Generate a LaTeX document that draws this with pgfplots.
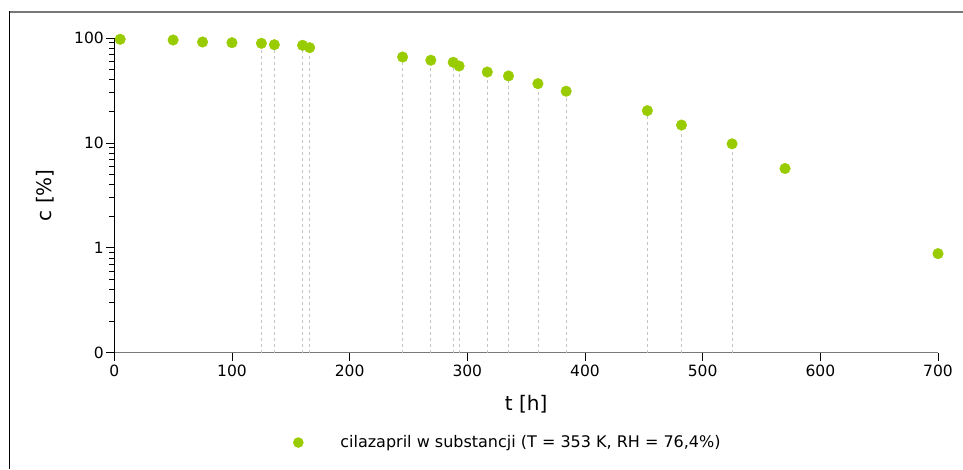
\documentclass[border=0pt]{standalone}
\usepackage{fontspec}
\setmainfont{DejaVu Sans}
\usepackage{pgfplots}
\pgfplotsset{compat=1.18}
\usepackage{pgfplotstable}

\definecolor{cgreen}{RGB}{153,204,0}
\definecolor{dashgray}{RGB}{195,195,195}
\definecolor{axgray}{RGB}{120,120,120}

% t [h], c [%]
\pgfplotstableread{
t   c
5   97.2
50  95.7
75  91.6
100 90.2
125 89.0
136 86.3
160 85.2
166 80.9
245 65.9
269 61.4
288 58.7
293 54.1
317 47.4
335 43.5
360 36.7
384 31.1
453 20.3
482 14.8
525 9.8
570 5.7
700 0.88
}\cilazapril

% points with a drop line to the time axis
\pgfplotstableread{
t   c
125 89.0
136 86.3
160 85.2
166 80.9
245 65.9
269 61.4
288 58.7
293 54.1
317 47.4
335 43.5
360 36.7
384 31.1
453 20.3
482 14.8
525 9.8
}\droplines

\begin{document}
\begin{tikzpicture}[x=1pt,y=1pt]
\useasboundingbox (0,0) rectangle (963,469);
% outer frame (top and left)
\draw[axgray, line width=2pt] (9,457) -- (963,457);
\draw[black, line width=1.5pt] (9.5,457.5) -- (9.5,0);

\begin{axis}[
  at={(114.3pt,116.3pt)}, anchor=south west,
  scale only axis, width=823.7pt, height=314.7pt,
  ymode=log, log origin y=infty,
  xmin=0, xmax=700, ymin=0.1, ymax=100,
  xtick={0,100,...,700},
  ytick={0.1,1,10,100}, yticklabels={0,1,10,100},
  axis x line*=bottom, axis y line*=left,
  x axis line style={axgray, line width=1pt},
  y axis line style={black, line width=1pt},
  tick align=outside,
  major tick length=8pt, minor tick length=5pt,
  xtick style={black, line width=0.8pt},
  ytick style={black, line width=0.8pt},
  /pgf/number format/assume math mode=true,
  ticklabel style={font=\fontsize{15.5}{18}\selectfont},
  xticklabel style={yshift=-0.5pt},
  yticklabel style={xshift=1pt},
  xlabel={t [h]}, ylabel={c [\%]},
  label style={font=\fontsize{20}{23}\selectfont},
  xlabel style={at={(axis description cs:0.5,-0.163)}, anchor=center},
  ylabel style={at={(axis description cs:-0.0841,0.5)}, anchor=center},
  clip=false,
  legend style={at={(axis description cs:0.2165,-0.2855)}, anchor=west,
    draw=none, fill=none, inner sep=0pt,
    font=\fontsize{16}{18}\selectfont},
  legend cell align=left,
  legend image code/.code={%
    \fill[cgreen, draw=none] (0pt,0pt) circle (5.3pt);
    \path[draw=none, fill=none] (-5.5pt,0pt) rectangle (40pt,0.1pt);},
]
\addplot[ycomb, dashgray, dash pattern=on 3pt off 3pt, line width=0.8pt, forget plot]
  table[x=t, y=c] {\droplines};
\addplot[cgreen, only marks, mark=*, mark size=5.3pt,
  mark options={fill=cgreen, draw=none}]
  table[x=t, y=c] {\cilazapril};
\addlegendentry{cilazapril w substancji (T = 353 K, RH = 76,4\%)}
\end{axis}
\end{tikzpicture}
\end{document}
